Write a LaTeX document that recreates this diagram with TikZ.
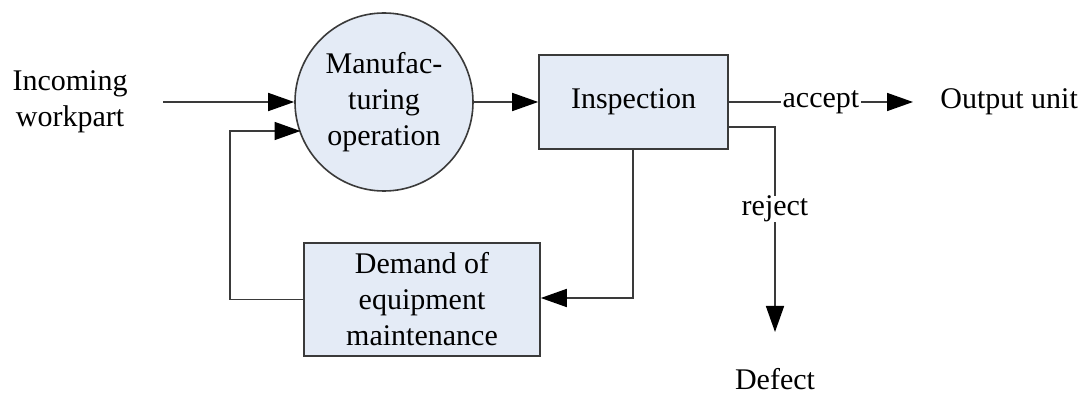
\documentclass[tikz,border=0pt]{standalone}
\usepackage{fontspec}
\setmainfont{Liberation Serif}
\usetikzlibrary{arrows.meta}
\definecolor{boxfill}{HTML}{E4EBF6}
\definecolor{boxline}{HTML}{3A3A3A}
\begin{document}
\begin{tikzpicture}[x=0.5pt,y=-0.5pt,
  every node/.style={font=\fontsize{15}{18}\selectfont, align=center, inner sep=0pt},
  blk/.style={draw=boxline, fill=boxfill, line width=0.8pt},
  wire/.style={draw=boxline, line width=0.8pt},
  flow/.style={wire, -{Triangle[length=13pt,width=9pt,color=black]}},
  lbl/.style={fill=white, inner xsep=1pt}]
\useasboundingbox (0,0) rectangle (1082,395);

% process blocks
\node[blk, circle, minimum size=89pt] (mfg) at (384,102) {Manufac-\\turing\\operation};
\node[blk, minimum width=94.5pt, minimum height=47pt] (insp) at (633.5,102) {Inspection};
\node[blk, minimum width=118pt, minimum height=56.5pt] (maint) at (422,299.5) {Demand of\\equipment\\maintenance};

% free texts
\node (inc) at (70,102) {Incoming\\workpart};
\node[anchor=west] (out) at (940,102) {Output unit};
\node (defect) at (775,379) {Defect};

% helper points
\coordinate (inStart) at (163,102);
\coordinate (acceptEnd) at (913,102);
\coordinate (rejStart) at (insp.east |- 0,127);
\coordinate (rejCorner) at (775,127);
\coordinate (rejEnd) at (775,332);
\coordinate (fbLeft) at (230,299.5);
\coordinate (fbTop) at (230,131);
\coordinate (fbTip) at (300.5,131);
\coordinate (inspDown) at (633,298);

% connectors
\draw[flow] (inStart) -- (mfg.west);
\draw[flow] (mfg.east) -- (insp.west);
\draw[flow] (insp.east) -- node[lbl, pos=0.5] (acc) {accept} (acceptEnd);
\draw[flow] (rejStart) -- (rejCorner) -- node[lbl, pos=0.4] (rej) {reject} (rejEnd);
\draw[flow] (insp.south -| inspDown) -- (inspDown) -- (maint.east |- inspDown);
\draw[flow] (maint.west) -- (fbLeft) -- (fbTop) -- (fbTip);
\end{tikzpicture}
\end{document}
